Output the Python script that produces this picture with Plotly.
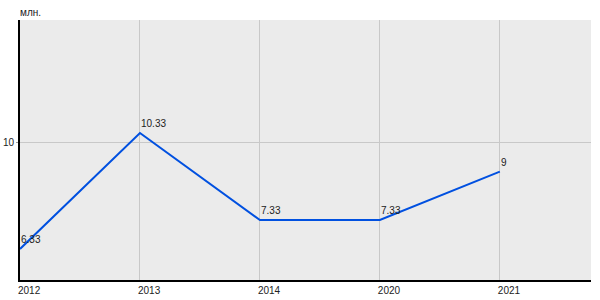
import plotly.graph_objects as go

categories = ["2012", "2013", "2014", "2020", "2021"]
values = [6.33, 10.33, 7.33, 7.33, 9]
labels = ["6.33", "10.33", "7.33", "7.33", "9"]
y_ticks = [10]
unit_label = "млн."

FONT = dict(family="Liberation Sans, Arial", size=10, color="#222222")

fig = go.Figure()
fig.add_trace(go.Scatter(
    x=list(range(len(categories))), y=values,
    mode="lines",
    line=dict(color="#0050E0", width=2),
    cliponaxis=False, hoverinfo="skip",
))

annotations = [dict(
    text=unit_label, xref="paper", yref="paper", x=0, y=1,
    xanchor="left", yanchor="bottom", yshift=0, xshift=-2, showarrow=False,
    font=FONT,
)]
for i, (v, t) in enumerate(zip(values, labels)):
    annotations.append(dict(
        text=t, x=i, y=v, xref="x", yref="y",
        xanchor="left", yanchor="bottom", xshift=-1, yshift=2,
        showarrow=False, font=FONT,
    ))

fig.update_layout(
    width=600, height=300,
    margin=dict(l=20, r=9, t=20, b=20, autoexpand=False),
    paper_bgcolor="white", plot_bgcolor="#EBEBEB",
    showlegend=False,
    font=FONT,
    xaxis=dict(
        range=[0, 4.76], tickmode="array",
        tickvals=list(range(len(categories))), ticktext=categories,
        showgrid=True, gridcolor="#C8C8C8", gridwidth=1,
        showline=True, linecolor="black", linewidth=2,
        ticks="", ticklabelposition="outside right", ticklabelshift=-3,
        ticklabelstandoff=0,
        zeroline=False, fixedrange=True, automargin=False,
    ),
    yaxis=dict(
        range=[5.26, 14.23], tickmode="array", tickvals=y_ticks,
        ticktext=[str(v) for v in y_ticks],
        showgrid=True, gridcolor="#C8C8C8", gridwidth=1,
        showline=True, linecolor="black", linewidth=2,
        ticks="outside", ticklen=2, tickcolor="#999999",
        ticklabelstandoff=0,
        zeroline=False, fixedrange=True, automargin=False,
    ),
    annotations=annotations,
)

fig.write_html("out.html")
